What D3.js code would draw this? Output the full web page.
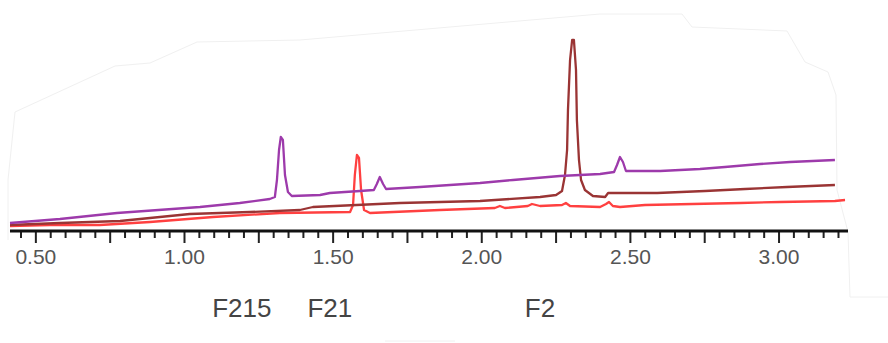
<!DOCTYPE html>
<html>
<head>
<meta charset="utf-8">
<script src="https://cdn.jsdelivr.net/npm/d3@7"></script>
<style>
  body { margin: 0; background: #fff; }
  svg { display: block; }
</style>
</head>
<body>
<div id="chart"></div>
<script>
// retention times (min) and signal for each trace
var purpleRt = [0.413, 0.581, 0.773, 1.052, 1.186, 1.287, 1.304, 1.311, 1.318, 1.324, 1.331, 1.338, 1.348, 1.361, 1.456, 1.489, 1.590, 1.637, 1.647, 1.657, 1.668, 1.678, 1.792, 1.994, 2.105, 2.263, 2.398, 2.445, 2.455, 2.465, 2.475, 2.485, 2.600, 2.734, 2.818, 2.936, 3.037, 3.188];
var purpleSig = [8, 12, 18, 24, 28, 32, 34, 51, 81, 94, 91, 56, 39, 35, 36, 38, 40, 41, 47, 54, 47, 42, 44, 48, 51, 55, 57, 59, 66, 74, 69, 60, 60, 62, 64, 67, 69, 71];

var brownRt = [0.413, 0.581, 0.783, 1.018, 1.220, 1.388, 1.432, 1.725, 1.994, 2.196, 2.250, 2.270, 2.280, 2.287, 2.290, 2.297, 2.304, 2.310, 2.317, 2.320, 2.327, 2.334, 2.347, 2.374, 2.415, 2.425, 2.590, 2.751, 2.886, 3.027, 3.188];
var brownSig = [6, 8, 10, 17, 19, 21, 24, 28, 30, 34, 36, 40, 56, 81, 121, 171, 191, 191, 161, 111, 71, 51, 41, 35, 34, 38, 38, 40, 42, 44, 46];

var redRt = [0.413, 0.547, 0.715, 0.884, 1.096, 1.321, 1.557, 1.567, 1.573, 1.580, 1.587, 1.594, 1.604, 1.624, 1.859, 2.044, 2.061, 2.078, 2.155, 2.169, 2.196, 2.270, 2.283, 2.297, 2.398, 2.418, 2.428, 2.441, 2.465, 2.549, 2.869, 3.003, 3.188, 3.222];
var redSig = [5, 6, 6, 9, 14, 18, 19, 26, 56, 76, 73, 41, 21, 18, 21, 23, 25, 23, 25, 27, 25, 26, 28, 25, 24, 27, 29, 25, 24, 26, 28, 29, 30, 31];

var peakNames = ["F215", "F21", "F2"];
var peakLabelRt = [1.193, 1.489, 2.196];

var tickLabels = [0.5, 1.0, 1.5, 2.0, 2.5, 3.0];

var svgWidth = 888;
var svgHeight = 343;

var svg = d3.select("#chart")
  .append("svg")
  .attr("width", svgWidth)
  .attr("height", svgHeight);

// faint torn-paper outline behind the chart
svg.append("path")
  .attr("d", "M8,240 L8,180 L15,112 L115,66 L150,63 L197,42 L300,40 L600,14 L682,14 L692,27 L787,31 L805,62 L828,72 L836,95 L837,190 L848,232 L850,297 L888,297")
  .attr("fill", "none")
  .attr("stroke", "#f0f0f0")
  .attr("stroke-width", 1);
svg.append("path")
  .attr("d", "M385,341 L455,341")
  .attr("stroke", "#f0f0f0");

var x = d3.scaleLinear()
  .domain([0.413, 3.232])
  .range([10, 848]);

var y = d3.scaleLinear()
  .domain([0, 200])
  .range([231, 31]);

var line = d3.line()
  .x(d => x(d[0]))
  .y(d => y(d[1]));

var traces = [
  { rt: redRt, sig: redSig, color: "#ff4040" },
  { rt: brownRt, sig: brownSig, color: "#9a3434" },
  { rt: purpleRt, sig: purpleSig, color: "#9d3aab" }
];

traces.forEach(function(t) {
  var pts = t.rt.map((r, i) => [r, t.sig[i]]);
  svg.append("path")
    .datum(pts)
    .attr("fill", "none")
    .attr("stroke", t.color)
    .attr("stroke-width", 2.3)
    .attr("stroke-linejoin", "round")
    .attr("d", line);
});

// x axis: minor ticks every 0.05, major every 0.25, labels every 0.5
var minorTicks = d3.range(45, 323, 5).map(v => v / 100);
var axisGroup = svg.append("g");

axisGroup.selectAll("line.tick")
  .data(minorTicks)
  .enter()
  .append("line")
  .attr("x1", d => x(d))
  .attr("x2", d => x(d))
  .attr("y1", 231)
  .attr("y2", d => (Math.round(d * 100) % 25 === 0) ? 243 : 238)
  .attr("stroke", "#222")
  .attr("stroke-width", 2);

axisGroup.append("line")
  .attr("x1", x.range()[0])
  .attr("x2", x.range()[1])
  .attr("y1", 231)
  .attr("y2", 231)
  .attr("stroke", "#111")
  .attr("stroke-width", 3);

axisGroup.selectAll("text")
  .data(tickLabels)
  .enter()
  .append("text")
  .attr("x", d => x(d))
  .attr("y", 264)
  .attr("text-anchor", "middle")
  .attr("font-family", "Liberation Sans, Arial, sans-serif")
  .attr("font-size", 21)
  .attr("fill", "#555")
  .text(d3.format(".2f"));

svg.selectAll("text.peak")
  .data(peakNames)
  .enter()
  .append("text")
  .attr("class", "peak")
  .attr("x", (d, i) => x(peakLabelRt[i]))
  .attr("y", 317)
  .attr("text-anchor", "middle")
  .attr("font-family", "Liberation Sans, Arial, sans-serif")
  .attr("font-size", 26)
  .attr("fill", "#444")
  .text(d => d);
</script>
</body>
</html>
